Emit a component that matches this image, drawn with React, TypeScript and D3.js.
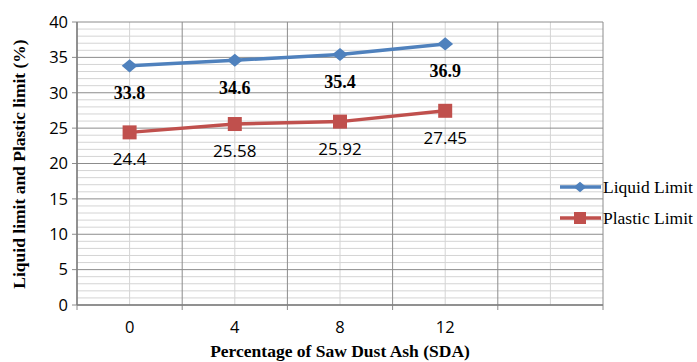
import React, { useEffect, useRef } from 'react';
import * as d3 from 'd3';

const categories = ['0', '4', '8', '12', ''];
const liquidLimit = [33.8, 34.6, 35.4, 36.9];
const plasticLimit = [24.4, 25.58, 25.92, 27.45];
const liquidLabels = ['33.8', '34.6', '35.4', '36.9'];
const plasticLabels = ['24.4', '25.58', '25.92', '27.45'];
const yTicks = [0, 5, 10, 15, 20, 25, 30, 35, 40];

const BLUE = '#4F81BD';
const RED = '#C0504D';
const SANS = '"Open Sans", "Noto Sans", sans-serif';
const SERIF = '"Liberation Serif", "Times New Roman", serif';

const App = () => {
  const ref = useRef<SVGSVGElement>(null);

  useEffect(() => {
    const svg = d3.select(ref.current);
    svg.selectAll('*').remove();
    const left = 77, right = 603, top = 22, bottom = 305;

    const x = d3.scaleBand().domain(categories.map((c, i) => i + ':' + c)).range([left, right]);
    const xc = (i: number) => (x(x.domain()[i]) as number) + x.bandwidth() / 2;
    const y = d3.scaleLinear().domain([0, 40]).range([bottom, top]);

    const g = svg.append('g');

    // minor horizontal grid
    g.selectAll('.hminor')
      .data(d3.range(0, 41, 1).filter(v => v % 5 !== 0))
      .enter().append('line')
      .attr('x1', left).attr('x2', right)
      .attr('y1', d => y(d)).attr('y2', d => y(d))
      .attr('stroke', '#d4d4d4').attr('stroke-width', 1);

    // minor vertical grid at category centres
    g.selectAll('.vminor')
      .data(categories.map((_, i) => i))
      .enter().append('line')
      .attr('x1', d => xc(d)).attr('x2', d => xc(d))
      .attr('y1', top).attr('y2', bottom)
      .attr('stroke', '#d4d4d4').attr('stroke-width', 1);

    // major horizontal grid
    g.selectAll('.hmajor')
      .data(yTicks)
      .enter().append('line')
      .attr('x1', left - 5).attr('x2', right)
      .attr('y1', d => y(d)).attr('y2', d => y(d))
      .attr('stroke', '#8c8c8c').attr('stroke-width', 1);

    // major vertical grid at band edges
    const edges = categories.map((_, i) => x(x.domain()[i]) as number).concat([right]);
    g.selectAll('.vmajor')
      .data(edges)
      .enter().append('line')
      .attr('x1', d => d).attr('x2', d => d)
      .attr('y1', top).attr('y2', bottom + 5)
      .attr('stroke', '#8c8c8c').attr('stroke-width', 1);

    // axes lines
    g.append('line').attr('x1', left).attr('x2', left).attr('y1', top).attr('y2', bottom)
      .attr('stroke', '#7f7f7f').attr('stroke-width', 1.5);
    g.append('line').attr('x1', left).attr('x2', right).attr('y1', bottom).attr('y2', bottom)
      .attr('stroke', '#7f7f7f').attr('stroke-width', 1.5);

    // y tick labels
    g.selectAll('.ytl')
      .data(yTicks)
      .enter().append('text')
      .attr('x', 68).attr('y', d => y(d)).attr('dy', '0.35em')
      .attr('text-anchor', 'end')
      .attr('font-family', SANS).attr('font-size', 16.5).attr('fill', '#000')
      .text(d => d);

    // x tick labels
    g.selectAll('.xtl')
      .data(categories)
      .enter().append('text')
      .attr('x', (_, i) => xc(i)).attr('y', 333)
      .attr('text-anchor', 'middle')
      .attr('font-family', SANS).attr('font-size', 16.5).attr('fill', '#000')
      .text(d => d);

    const line = d3.line<number>().x((_, i) => xc(i)).y(d => y(d));

    // series
    g.append('path').datum(liquidLimit).attr('d', line)
      .attr('fill', 'none').attr('stroke', BLUE).attr('stroke-width', 3.5);
    g.append('path').datum(plasticLimit).attr('d', line)
      .attr('fill', 'none').attr('stroke', RED).attr('stroke-width', 3.5);

    const diamond = d3.symbol().type(d3.symbolDiamond2).size(110);
    g.selectAll('.lm')
      .data(liquidLimit)
      .enter().append('path')
      .attr('d', diamond)
      .attr('transform', (d, i) => `translate(${xc(i)},${y(d)}) scale(1.2,1)`)
      .attr('fill', BLUE);

    g.selectAll('.pm')
      .data(plasticLimit)
      .enter().append('rect')
      .attr('x', (_, i) => xc(i) - 7).attr('y', d => y(d) - 7)
      .attr('width', 14).attr('height', 14)
      .attr('fill', RED);

    // data labels
    g.selectAll('.ll')
      .data(liquidLimit)
      .enter().append('text')
      .attr('x', (_, i) => xc(i)).attr('y', d => y(d) + 27).attr('dy', '0.35em')
      .attr('text-anchor', 'middle')
      .attr('font-family', SERIF).attr('font-weight', 'bold').attr('font-size', 18)
      .text((_, i) => liquidLabels[i]);

    g.selectAll('.pl')
      .data(plasticLimit)
      .enter().append('text')
      .attr('x', (_, i) => xc(i)).attr('y', d => y(d) + 27).attr('dy', '0.35em')
      .attr('text-anchor', 'middle')
      .attr('font-family', SANS).attr('font-size', 17)
      .text((_, i) => plasticLabels[i]);

    // axis titles
    g.append('text')
      .attr('transform', `translate(25,164) rotate(-90)`)
      .attr('text-anchor', 'middle')
      .attr('font-family', SERIF).attr('font-weight', 'bold').attr('font-size', 17.5)
      .text('Liquid limit and Plastic limit (%)');
    g.append('text')
      .attr('x', 340).attr('y', 357)
      .attr('text-anchor', 'middle')
      .attr('font-family', SERIF).attr('font-weight', 'bold').attr('font-size', 17.5)
      .text('Percentage of Saw Dust Ash (SDA)');

    // legend
    const legend = [
      { name: 'Liquid Limit', color: BLUE, shape: 'diamond', y: 187 },
      { name: 'Plastic Limit', color: RED, shape: 'square', y: 218 },
    ];
    legend.forEach(l => {
      g.append('line').attr('x1', 560).attr('x2', 601).attr('y1', l.y).attr('y2', l.y)
        .attr('stroke', l.color).attr('stroke-width', 3.5);
      if (l.shape === 'diamond') {
        g.append('path').attr('d', d3.symbol().type(d3.symbolDiamond2).size(70)())
          .attr('transform', `translate(580,${l.y}) scale(1.2,1)`).attr('fill', l.color);
      } else {
        g.append('rect').attr('x', 574).attr('y', l.y - 6).attr('width', 12).attr('height', 12)
          .attr('fill', l.color);
      }
      g.append('text').attr('x', 603).attr('y', l.y).attr('dy', '0.35em')
        .attr('font-family', SERIF).attr('font-size', 17.5)
        .text(l.name);
    });
  }, []);

  return (
    <svg ref={ref} width={697} height={362}
      style={{ position: 'absolute', left: 0, top: 0, background: '#fff' }} />
  );
};

export default App;
